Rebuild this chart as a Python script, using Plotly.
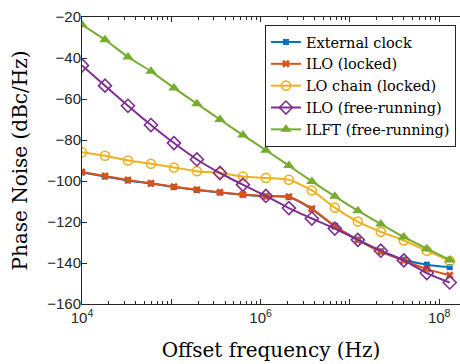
import plotly.graph_objects as go

freq = [1.0e4, 1.809e4, 3.272e4, 5.919e4, 1.071e5, 1.936e5, 3.503e5, 6.337e5,
        1.146e6, 2.073e6, 3.750e6, 6.78e6, 1.227e7, 2.22e7, 4.015e7, 7.26e7, 1.313e8]

ext_clock = [-95.8, -97.8, -99.7, -101.2, -102.9, -104.4, -105.6, -106.7,
             -107.5, -107.8, -113.7, -122.1, -128.6, -134.3, -138.4, -140.8, -142.0]
ilo_locked = [-95.6, -97.6, -99.5, -101.1, -102.8, -104.3, -105.5, -106.6,
              -107.4, -107.7, -113.5, -122.0, -128.8, -134.5, -138.8, -143.0, -146.0]
lo_chain = [-86.0, -87.7, -90.0, -91.6, -93.4, -95.2, -96.1, -97.8,
            -98.5, -99.4, -104.6, -113.0, -119.8, -124.8, -129.0, -134.0, -139.0]
ilo_free = [-43.6, -53.5, -63.3, -72.7, -81.5, -89.5, -96.1, -101.8,
            -107.3, -113.2, -118.3, -123.2, -128.7, -134.0, -138.7, -144.9, -149.5]
ilft_free = [-23.8, -31.1, -39.5, -46.5, -54.6, -62.3, -70.0, -77.6,
             -85.0, -92.5, -100.2, -107.5, -114.5, -121.0, -127.3, -133.0, -138.5]

names = ["External clock", "ILO (locked)", "LO chain (locked)",
         "ILO (free-running)", "ILFT (free-running)"]
series = [ext_clock, ilo_locked, lo_chain, ilo_free, ilft_free]
colors = ["#0072BD", "#D95319", "#EDB120", "#7E2F8E", "#77AC30"]
symbols = ["square", "x", "circle-open", "diamond-open", "triangle-up"]
msizes = [6, 7, 9, 10, 10]

y_ticks = [-160, -140, -120, -100, -80, -60, -40, -20]
x_major = [1e4, 1e5, 1e6, 1e7, 1e8]
x_labels = ["10<sup>4</sup>", "", "10<sup>6</sup>", "", "10<sup>8</sup>"]
x_minor = [m * 10 ** e for e in range(4, 9) for m in range(2, 10)]

SERIF = "DejaVu Serif"
SANS = "Liberation Sans"

fig = go.Figure()
for name, vals, c, s, ms in zip(names, series, colors, symbols, msizes):
    fig.add_trace(go.Scatter(
        x=freq, y=vals, name=name, mode="lines+markers",
        line=dict(color=c, width=2, shape="spline", smoothing=0.6),
        marker=dict(symbol=s, size=ms, color=c,
                    line=dict(color=c, width=1.6 if "open" in s else 0)),
    ))

fig.update_layout(
    width=460, height=364,
    margin=dict(l=82, r=0, t=17, b=60),
    paper_bgcolor="white", plot_bgcolor="white",
    font=dict(family=SERIF, size=14, color="#000000"),
    showlegend=True,
    legend=dict(
        x=0.484, y=0.972, xanchor="left", yanchor="top",
        bgcolor="white", bordercolor="#262626", borderwidth=1,
        font=dict(family=SERIF, size=14.5, color="#000000"),
        tracegroupgap=0, itemwidth=30,
    ),
    xaxis=dict(
        type="log", range=[4, 8.233], automargin=False,
        tickmode="array", tickvals=x_major, ticktext=x_labels,
        ticks="inside", ticklen=5, tickcolor="#262626",
        showline=True, linecolor="#262626", linewidth=1, mirror="ticks",
        showgrid=False, zeroline=False,
        minor=dict(ticks="inside", ticklen=3, tickvals=x_minor, tickcolor="#262626", showgrid=False),
        title=dict(text="Offset frequency (Hz)",
                   font=dict(family=SERIF, size=20, color="#000000"),
                   standoff=17),
        tickfont=dict(family=SANS, size=15, color="#262626"),
    ),
    yaxis=dict(
        range=[-160, -20], tickmode="array", tickvals=y_ticks, automargin=False,
        ticks="inside", ticklen=5, tickcolor="#262626",
        showline=True, linecolor="#262626", linewidth=1,
        showgrid=False, zeroline=False, ticklabelstandoff=-3,
        title=dict(text="Phase Noise (dBc/Hz)",
                   font=dict(family=SERIF, size=20, color="#000000"),
                   standoff=14),
        tickfont=dict(family=SANS, size=15, color="#262626"),
    ),
)

fig.write_html("out.html", config={"displayModeBar": False},
               post_script="document.body.style.margin='0';document.body.style.overflow='hidden';")
